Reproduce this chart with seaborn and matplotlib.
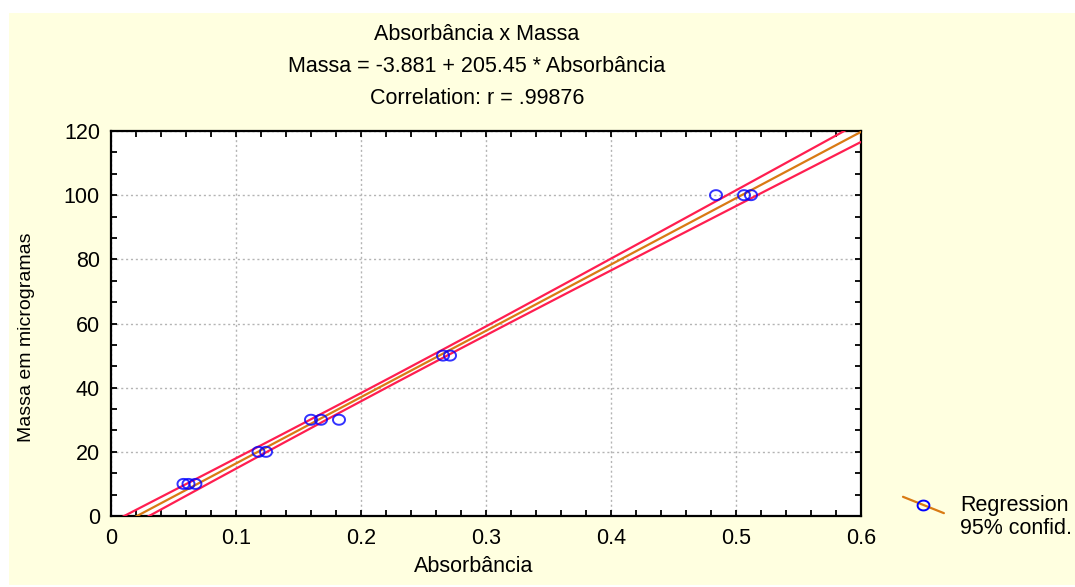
import numpy as np
import matplotlib
matplotlib.use("Agg")
import matplotlib.pyplot as plt
import seaborn as sns
from matplotlib.lines import Line2D
from matplotlib.patches import Rectangle
from matplotlib.path import Path
from matplotlib.legend_handler import HandlerBase
from matplotlib.ticker import MultipleLocator

# === Dados ===
absorbancia = [0.058, 0.062, 0.0675, 0.118, 0.124, 0.160, 0.168, 0.1824,
               0.2656, 0.2712, 0.484, 0.5064, 0.512]
massa = [10, 10, 10, 20, 20, 30, 30, 30, 50, 50, 100, 100, 100]
x_ticks = [0, 0.1, 0.2, 0.3, 0.4, 0.5, 0.6]
y_ticks = [0, 20, 40, 60, 80, 100, 120]
title_lines = ["Absorbância x Massa",
               "Massa = -3.881 + 205.45 * Absorbância",
               "Correlation: r = .99876"]
T_95 = 2.201  # t(0.975, df = n - 2 = 11)

BLUE = '#0000ff'
ORANGE = '#d97a14'
RED = '#ff1e50'
BG = '#ffffe0'
FS = 15.5

sns.set_style('ticks')
plt.rcParams['font.family'] = ['Liberation Sans', 'DejaVu Sans']
plt.rcParams['font.size'] = FS
plt.rcParams['text.color'] = 'black'
plt.rcParams['axes.labelcolor'] = 'black'
plt.rcParams['xtick.color'] = 'black'
plt.rcParams['ytick.color'] = 'black'

# marcador eliptico (a imagem original esta esticada na horizontal)
t = np.linspace(0, 2 * np.pi, 60)
ellipse = Path(np.column_stack([1.2 * np.cos(t), np.sin(t)]), closed=True)

fig = plt.figure(figsize=(10.75, 5.87), dpi=100)
fig.patch.set_facecolor('white')
fig.patches.append(Rectangle((9 / 1075, 2 / 587), 1, 1 - 15 / 587,
                             transform=fig.transFigure, facecolor=BG,
                             edgecolor='none', zorder=-10))

ax = fig.add_axes([111 / 1075, 1 - 516 / 587, 750 / 1075, 385 / 587])
ax.set_facecolor('white')
ax.set_xlim(0, 0.6)
ax.set_ylim(0, 120)

# === Regressao + pontos ===
sns.regplot(x=np.array(absorbancia), y=np.array(massa), ax=ax, ci=None,
            truncate=False, marker=ellipse,
            scatter_kws=dict(s=75, facecolors='none', edgecolors=BLUE,
                             linewidths=1.4, zorder=4),
            line_kws=dict(color=ORANGE, lw=1.6, zorder=3))

# intervalo de confianca 95% (linhas)
xa = np.array(absorbancia)
ya = np.array(massa, dtype=float)
b, a = np.polyfit(xa, ya, 1)
resid = ya - (a + b * xa)
s = np.sqrt(np.sum(resid ** 2) / (len(xa) - 2))
xg = np.linspace(0, 0.6, 200)
se = s * np.sqrt(1 / len(xa) + (xg - xa.mean()) ** 2 / np.sum((xa - xa.mean()) ** 2))
ax.plot(xg, a + b * xg + T_95 * se, color=RED, lw=1.6, zorder=3)
ax.plot(xg, a + b * xg - T_95 * se, color=RED, lw=1.6, zorder=3)

# === Eixos ===
ax.set_xticks(x_ticks)
ax.set_yticks(y_ticks)
ax.set_xticklabels([f"{v:g}" for v in x_ticks])
ax.xaxis.set_minor_locator(MultipleLocator(0.02))
ax.yaxis.set_minor_locator(MultipleLocator(20 / 3))
ax.tick_params(which='both', direction='in', top=True, right=True,
               length=4, width=1.3, color='black')
ax.tick_params(axis='x', which='major', pad=9, labelsize=FS)
ax.tick_params(axis='y', which='major', pad=8, labelsize=FS)
ax.grid(True, which='major', color='#b4b4b4', linestyle=(0, (1.5, 2)), lw=1)
for sp in ax.spines.values():
    sp.set_linewidth(1.6)
    sp.set_color('black')
    sp.set_visible(True)

ax.set_xlabel("Absorbância", fontsize=FS)
ax.set_ylabel("Massa em microgramas", fontsize=14)
ax.xaxis.set_label_coords(0.483, -0.105)
ax.yaxis.set_label_coords(-0.101, 0.465)

# === Titulo ===
for txt, yp in zip(title_lines, [35, 67, 98]):
    fig.text(477 / 1075, 1 - yp / 587, txt, ha='center', va='center',
             fontsize=FS)


# === Legenda (simbolo inclinado) ===
class SlantHandler(HandlerBase):
    def create_artists(self, legend, orig_handle, xdescent, ydescent,
                       width, height, fontsize, trans):
        y0 = height / 2 - ydescent + 0.58 * fontsize
        ln = Line2D([-xdescent, width - xdescent],
                    [y0 + 0.2 * width, y0 - 0.2 * width],
                    color=ORANGE, lw=1.6)
        mk = Line2D([width / 2 - xdescent], [y0], marker=ellipse,
                    markersize=8.5, markerfacecolor='none',
                    markeredgecolor=BLUE, markeredgewidth=1.4, ls='none')
        ln.set_transform(trans)
        mk.set_transform(trans)
        return [ln, mk]


handle = Line2D([], [])
leg = fig.legend([handle], ["Regression\n95% confid."],
                 handler_map={Line2D: SlantHandler()},
                 loc='center left', bbox_to_anchor=(903 / 1075, 1 - 517 / 587),
                 bbox_transform=fig.transFigure, frameon=False, borderpad=0,
                 borderaxespad=0, handlelength=1.9, handletextpad=0.75,
                 fontsize=FS)
for txt in leg.get_texts():
    txt.set_multialignment('left')
    txt.set_linespacing(1.1)

fig.savefig("out.png", dpi=100)
